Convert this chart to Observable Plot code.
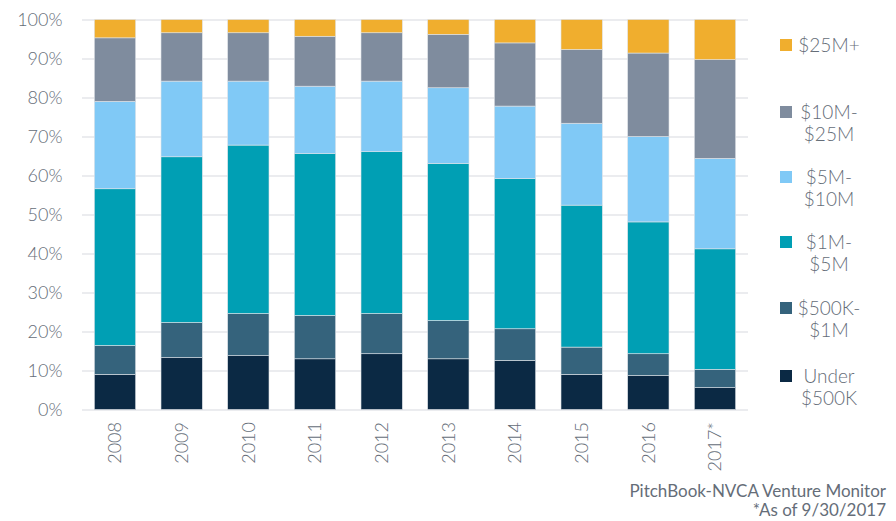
<!DOCTYPE html>
<html><head><meta charset="utf-8">
<script src="https://cdn.jsdelivr.net/npm/d3@7"></script>
<script src="https://cdn.jsdelivr.net/npm/@observablehq/plot@0.6"></script>
<style>
body{margin:0;background:#fff;font-family:Lato,sans-serif;}
#wrap{position:relative;width:896px;height:521px;overflow:hidden;}
#legend{position:absolute;left:780px;top:0;width:116px;}
.item{position:absolute;left:0;width:116px;}
.sw{position:absolute;left:0;width:12px;height:12px;}
.lbl{position:absolute;left:9px;width:80px;text-align:center;font-size:19px;line-height:22px;color:#656d78;font-weight:300;}
.cap{position:absolute;right:10px;text-align:right;font-size:17px;line-height:16px;color:#656d78;white-space:nowrap;}
</style></head>
<body><div id="wrap"><div id="chart"></div><div id="legend"></div>
<div class="cap" style="top:483px">PitchBook-NVCA Venture Monitor</div>
<div class="cap" style="top:502px">*As of 9/30/2017</div></div>
<script>
const years = ["2008","2009","2010","2011","2012","2013","2014","2015","2016","2017*"];
const categories = ["Under $500K","$500K-$1M","$1M-$5M","$5M-$10M","$10M-$25M","$25M+"];
const legendLabels = [["Under","$500K"],["$500K-","$1M"],["$1M-","$5M"],["$5M-","$10M"],["$10M-","$25M"],["$25M+"]];
const colors = ["#0b2944","#35637c","#009fb4","#80c9f6","#7f8c9e","#f0ae2e"];
const under500K = [9.0,13.3,13.8,13.0,14.3,13.0,12.6,9.0,8.7,5.6];
const k500to1M  = [7.4,9.0,10.8,11.1,10.3,9.8,8.1,7.0,5.6,4.7];
const m1to5     = [40.2,42.5,43.2,41.5,41.5,40.3,38.5,36.4,33.8,30.9];
const m5to10    = [22.4,19.4,16.4,17.3,18.1,19.4,18.6,21.0,21.9,23.2];
const m10to25   = [16.3,12.4,12.4,12.8,12.4,13.7,16.2,18.9,21.4,25.3];
const m25plus   = [4.7,3.4,3.4,4.3,3.4,3.8,6.0,7.7,8.6,10.3];
const series = [under500K,k500to1M,m1to5,m5to10,m10to25,m25plus];
const yTicks = [0,10,20,30,40,50,60,70,80,90,100];

const data = [];
years.forEach((y,i)=>series.forEach((s,j)=>data.push({year:y,cat:categories[j],value:s[i]})));

const plot = Plot.plot({
  width:896, height:521,
  marginTop:19.5, marginBottom:111.5, marginLeft:82, marginRight:148,
  style:{fontFamily:"Lato, sans-serif", fontSize:"18px", color:"#656d78", background:"#fff"},
  x:{domain:years, paddingInner:0.38, paddingOuter:0.185, round:false, label:null},
  y:{domain:[0,100], label:null},
  color:{domain:categories, range:colors},
  marks:[
    Plot.gridY(yTicks,{stroke:"#e4e6ea", strokeWidth:1.5, strokeOpacity:1}),
    Plot.barY(data,{x:"year", y:"value", fill:"cat", stroke:"#dfe3e8", strokeWidth:0.6, inset:0}),
    Plot.axisY({ticks:yTicks, tickSize:0, tickPadding:20, tickFormat:d=>d+"%", fontWeight:300}),
    Plot.axisX({tickSize:0, tickRotate:-90, tickPadding:12, fontWeight:300})
  ]
});
document.getElementById("chart").appendChild(plot);

const legendY = [376,308,242,177,112,45];
const leg = document.getElementById("legend");
categories.forEach((c,j)=>{
  const lines = legendLabels[j];
  const it = document.createElement("div");
  it.className="item";
  it.style.top = (legendY[j]-11)+"px";
  const sw = document.createElement("div");
  sw.className="sw"; sw.style.background=colors[j]; sw.style.top="5px";
  const lb = document.createElement("div");
  lb.className="lbl"; lb.innerHTML = lines.join("<br>");
  it.appendChild(sw); it.appendChild(lb); leg.appendChild(it);
});
</script></body></html>
